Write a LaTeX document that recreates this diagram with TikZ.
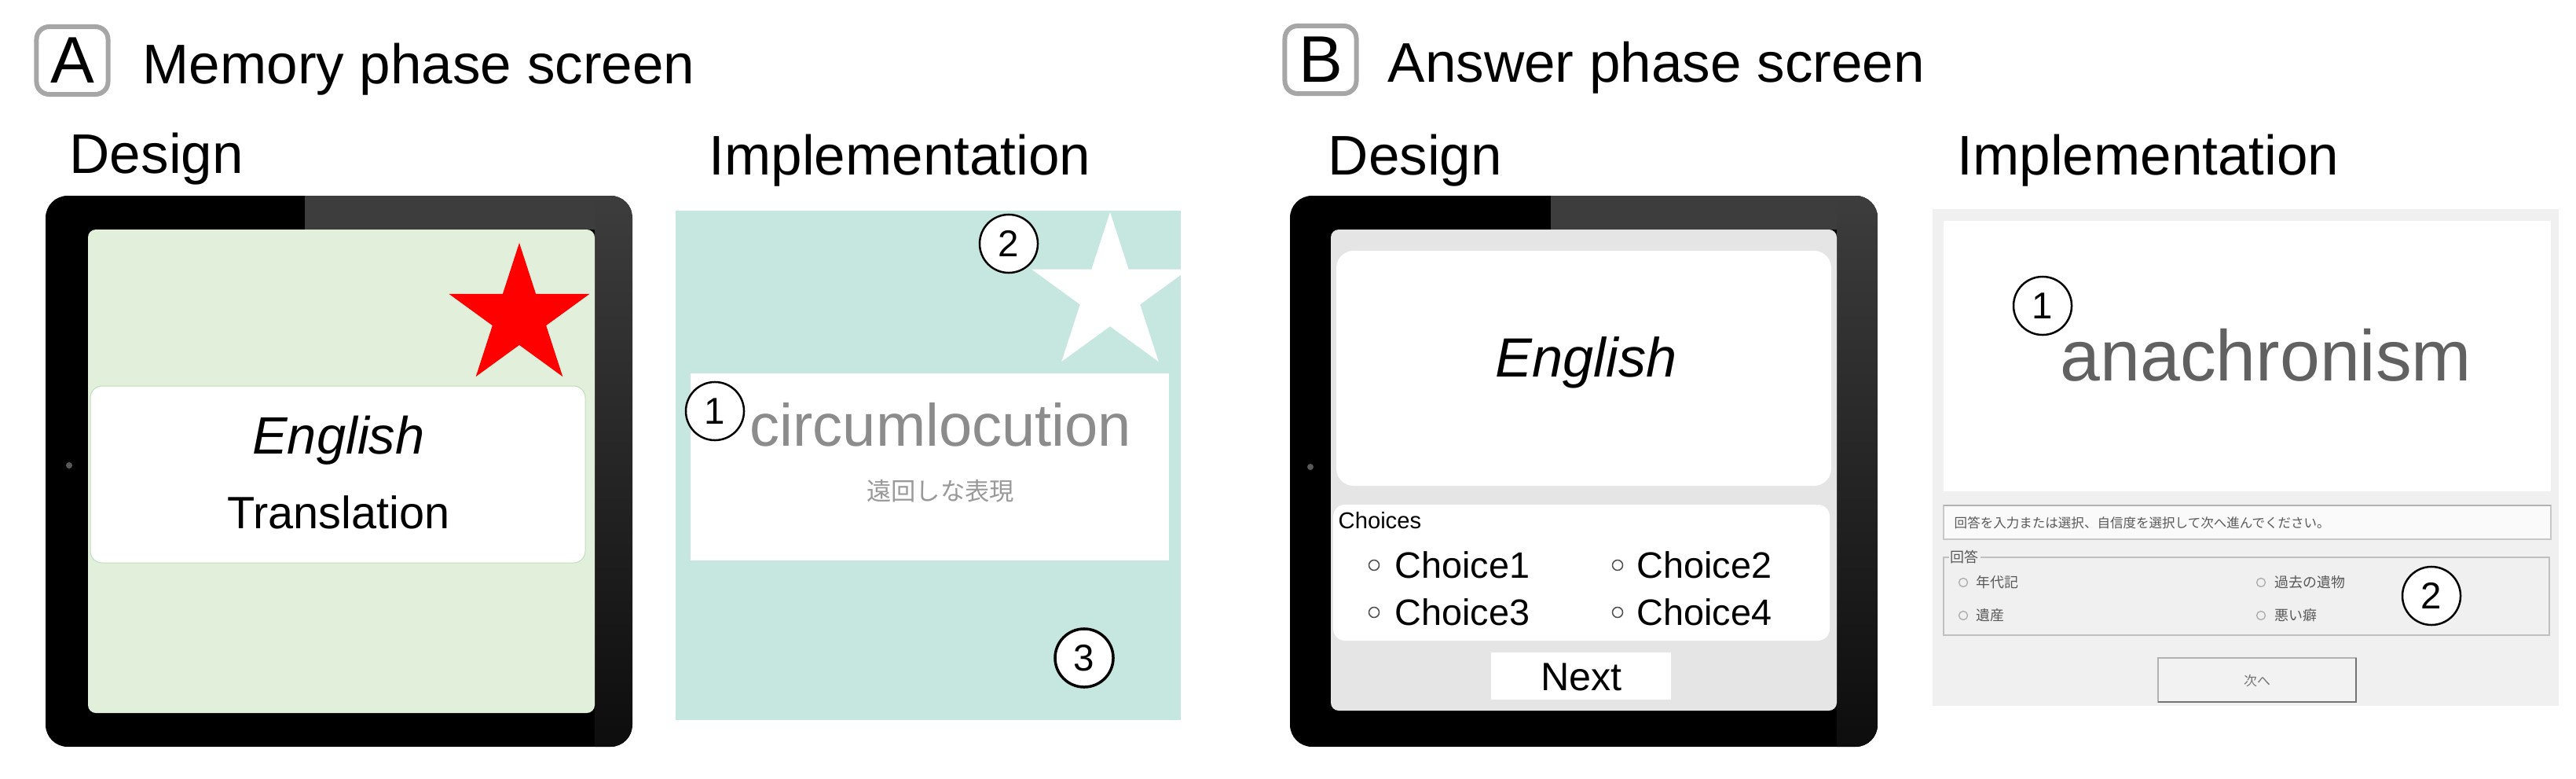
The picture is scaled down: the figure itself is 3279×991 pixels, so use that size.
\documentclass[tikz,border=0pt]{standalone}
\usepackage{fontspec}
\setmainfont{Liberation Sans}
\newfontfamily\jpfont{Noto Sans CJK JP}
\usetikzlibrary{shapes.geometric}
\definecolor{bzgray}{HTML}{3D3D3D}
\definecolor{scrA}{HTML}{E2EFDA}
\definecolor{tealA}{HTML}{C6E6E0}
\definecolor{scrB}{HTML}{E5E5E5}
\definecolor{winbg}{HTML}{F0F0F0}
\definecolor{lblbox}{HTML}{A6A6A6}
\newcommand{\myfs}[1]{\fontsize{#1}{#1}\selectfont}
\begin{document}
\begin{tikzpicture}[x=0.01cm,y=-0.01cm,
  hdr/.style={anchor=base west, inner sep=0, font=\myfs{20.2}},
  lblbox/.style={draw=lblbox, line width=0.06cm, rounded corners=0.16cm, minimum width=0.91cm, minimum height=0.86cm, inner sep=0, font=\myfs{23.8}},
  num/.style={circle, draw=black, line width=0.025cm, fill=white, minimum size=0.74cm, inner sep=0, font=\myfs{13.5}},
  radio/.style={circle, draw=black!70, line width=0.015cm, minimum size=0.13cm, inner sep=0},
  wradio/.style={circle, draw=black!35, line width=0.012cm, minimum size=0.11cm, inner sep=0},
  choice/.style={anchor=west, inner sep=0, font=\myfs{13.3}},
  jpsmall/.style={anchor=west, inner sep=0, font=\jpfont\myfs{5.1}, text=black!65},
  dot/.style={circle, fill=black!65, minimum size=0.08cm, inner sep=0}
]
\useasboundingbox (0,0) rectangle (3279,991);

% ---------- headings ----------
\node[lblbox] (labA) at (92,77) {A};
\node[hdr] (titA) at (181,107) {Memory phase screen};
\node[hdr] (desA) at (88,220) {Design};
\node[hdr] (impA) at (902,222) {Implementation};

\node[lblbox] (labB) at (1681,76) {B};
\node[hdr] (titB) at (1766,105) {Answer phase screen};
\node[hdr] (desB) at (1690,222) {Design};
\node[hdr] (impB) at (2491,222) {Implementation};

% ---------- Tablet A (design) ----------
\begin{scope}
  \clip[rounded corners=0.28cm] (58,249) rectangle (805,950);
  \fill[black] (58,249) rectangle (805,950);
  \fill[bzgray] (388,249) rectangle (805,292);
  \shade[top color=bzgray, bottom color=black!95] (757,249) rectangle (805,950);
\end{scope}
\node[dot] (camA) at (88,592) {};
\fill[scrA, rounded corners=0.1cm] (112,292) rectangle (757,907);
\node[star, star points=5, star point ratio=2.618, minimum size=1.88cm, inner sep=0, fill=red] (starA) at (661,403) {};
\draw[green!50!black!25, fill=white, rounded corners=0.15cm, line width=0.01cm] (115,491) rectangle (745,716);
\node[font=\myfs{19}\itshape] (engA) at (431,560) {English};
\node[font=\myfs{16.4}] (trA) at (431,652) {Translation};

% ---------- Implementation A ----------
\fill[tealA] (860,268) rectangle (1503,916);
\begin{scope}
  \clip (860,268) rectangle (1503,916);
  \node[star, star points=5, star point ratio=2.618, minimum size=2.1cm, inner sep=0, fill=white] (starI) at (1413,375) {};
\end{scope}
\fill[white] (879,475) rectangle (1488,713);
\node[anchor=base west, inner sep=0, font=\myfs{21.6}, text=black!45] (circ) at (954,567) {circumlocution};
\node[inner sep=0, font=\jpfont\myfs{8.9}, text=black!40] (jpA) at (1197,625) {遠回しな表現};
\node[num] (a1) at (910,523) {1};
\node[num] (a2) at (1284,310) {2};
\node[num, line width=0.035cm] (a3) at (1380,837) {3};

% ---------- Tablet B (design) ----------
\begin{scope}
  \clip[rounded corners=0.28cm] (1642,249) rectangle (2390,950);
  \fill[black] (1642,249) rectangle (2390,950);
  \fill[bzgray] (1974,249) rectangle (2390,292);
  \shade[top color=bzgray, bottom color=black!95] (2338,249) rectangle (2390,950);
\end{scope}
\node[dot] (camB) at (1668,594) {};
\fill[scrB, rounded corners=0.1cm] (1694,292) rectangle (2338,904);
\fill[white, rounded corners=0.22cm] (1701,319) rectangle (2331,618);
\node[font=\myfs{20}\itshape] (engB) at (2019,461) {English};
\fill[white, rounded corners=0.15cm] (1697,642) rectangle (2329,815);
\node[anchor=west, inner sep=0, font=\myfs{8.3}] (chs) at (1703,662) {Choices};
\node[radio] (r1) at (1749,719) {};
\node[choice] (c1) at (1775,719) {Choice1};
\node[radio] (r2) at (2059,719) {};
\node[choice] (c2) at (2083,719) {Choice2};
\node[radio] (r3) at (1749,779) {};
\node[choice] (c3) at (1775,779) {Choice3};
\node[radio] (r4) at (2059,779) {};
\node[choice] (c4) at (2083,779) {Choice4};
\fill[white] (1898,830) rectangle (2127,890);
\node[font=\myfs{14.3}] (next) at (2013,861) {Next};

% ---------- Implementation B ----------
\fill[winbg] (2460,266) rectangle (3257,898);
\fill[white] (2474,281) rectangle (3247,625);
\node[anchor=base west, inner sep=0, font=\myfs{26}, text=black!62] (anach) at (2622,484) {anachronism};
\draw[black!22, fill=black!2, line width=0.012cm] (2474,643) rectangle (3247,686);
\draw[black!30, line width=0.015cm] (2474,643) -- (3247,643);
\node[jpsmall, font=\jpfont\myfs{4.7}] (instr) at (2487,665) {回答を入力または選択、自信度を選択して次へ進んでください。};
\draw[black!25, line width=0.015cm] (2474,709) rectangle (3245,808);
\node[jpsmall, fill=winbg, inner sep=0.02cm] (leg) at (2480,709) {回答};
\node[wradio] (w1) at (2499,741) {};
\node[jpsmall] (o1) at (2515,741) {年代記};
\node[wradio] (w2) at (2878,741) {};
\node[jpsmall] (o2) at (2895,741) {過去の遺物};
\node[wradio] (w3) at (2499,783) {};
\node[jpsmall] (o3) at (2515,783) {遺産};
\node[wradio] (w4) at (2878,783) {};
\node[jpsmall] (o4) at (2895,783) {悪い癖};
\draw[black!30, fill=black!5, line width=0.015cm] (2747,837) rectangle (2999,893);
\draw[black!55, line width=0.015cm] (2747,893) -- (2999,893) -- (2999,837);
\node[inner sep=0, font=\jpfont\myfs{4.8}, text=black!55] (nextB) at (2873,866) {次へ};
\node[num] (b1) at (2600,389) {1};
\node[num] (b2) at (3095,758) {2};
\end{tikzpicture}
\end{document}
